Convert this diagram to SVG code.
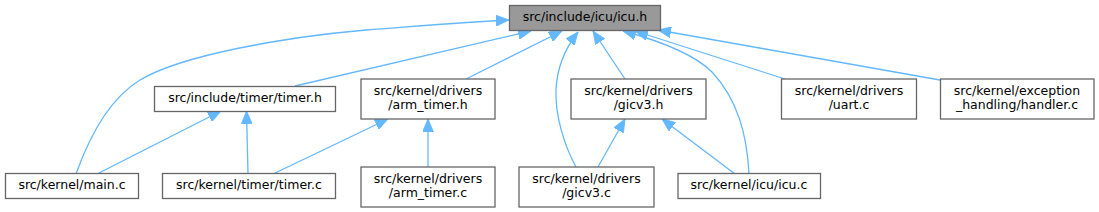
<svg xmlns="http://www.w3.org/2000/svg" width="1099" height="212" viewBox="0 0 1099 212">
<style>
.n rect{fill:#ffffff;stroke:#666666;stroke-width:1.3}
.n.root rect{fill:#999999}
.n text{font-family:"DejaVu Sans",sans-serif;font-size:12.5px;fill:#000000;text-anchor:middle}
#edges path{fill:none;stroke:#63b8ff;stroke-width:1.3;marker-end:url(#arr)}
</style>
<defs>
<marker id="arr" viewBox="0 0 13 11" markerWidth="13" markerHeight="11" refX="13" refY="5.5" orient="auto" markerUnits="userSpaceOnUse">
<path d="M0,0 L13,5.5 L0,11 z" fill="#63b8ff" stroke="#63b8ff" stroke-width="0.8"/>
</marker>
</defs>
<g id="edges">
<path d="M76,174 C91,132 112,97 140,80 C182,55 285,37 366,30 C420,26 468,22 509,20"/>
<path d="M295,86 L531,31"/>
<path d="M466,79 L562,31"/>
<path d="M576,167 C564,145 555,115 556,90 C557,66 567,46 578,32"/>
<path d="M625,79 L593,31"/>
<path d="M749,174 C747,135 738,100 712,72 C694,54 660,41 623,31"/>
<path d="M785,79 L635,31"/>
<path d="M940,80 L658,30"/>
<path d="M97,174 L221,111"/>
<path d="M248,174 L246.5,111"/>
<path d="M273,174 L388,119"/>
<path d="M428,167 L428,119"/>
<path d="M598,167 L625,119"/>
<path d="M735,174 L662,119"/>
</g>
<g id="icu_h" class="n root"><rect x="509.5" y="5.5" width="151" height="25"/><text x="585" y="21">src/include/icu/icu.h</text></g>
<g id="timer_h" class="n"><rect x="154.5" y="86.5" width="181" height="25"/><text x="245" y="102">src/include/timer/timer.h</text></g>
<g id="main_c" class="n"><rect x="5.5" y="173.5" width="133" height="25"/><text x="72" y="189">src/kernel/main.c</text></g>
<g id="timer_c" class="n"><rect x="162.5" y="173.5" width="173" height="25"/><text x="249" y="189">src/kernel/timer/timer.c</text></g>
<g id="arm_timer_h" class="n"><rect x="361" y="79" width="134" height="40"/><text x="428" y="94.5">src/kernel/drivers</text><text x="428" y="109">/arm_timer.h</text></g>
<g id="arm_timer_c" class="n"><rect x="361" y="167" width="134" height="40"/><text x="428" y="182.5">src/kernel/drivers</text><text x="428" y="197">/arm_timer.c</text></g>
<g id="gicv3_h" class="n"><rect x="571" y="79" width="135" height="40"/><text x="638.5" y="94.5">src/kernel/drivers</text><text x="638.5" y="109">/gicv3.h</text></g>
<g id="gicv3_c" class="n"><rect x="519" y="167" width="135" height="40"/><text x="586.5" y="182.5">src/kernel/drivers</text><text x="586.5" y="197">/gicv3.c</text></g>
<g id="icu_c" class="n"><rect x="678" y="173.5" width="142.5" height="25"/><text x="749" y="189">src/kernel/icu/icu.c</text></g>
<g id="uart_c" class="n"><rect x="781.5" y="79" width="135" height="40"/><text x="849" y="94.5">src/kernel/drivers</text><text x="849" y="109">/uart.c</text></g>
<g id="handler_c" class="n"><rect x="940.5" y="79" width="153.5" height="40"/><text x="1017" y="94.5">src/kernel/exception</text><text x="1017" y="109">_handling/handler.c</text></g>
</svg>
